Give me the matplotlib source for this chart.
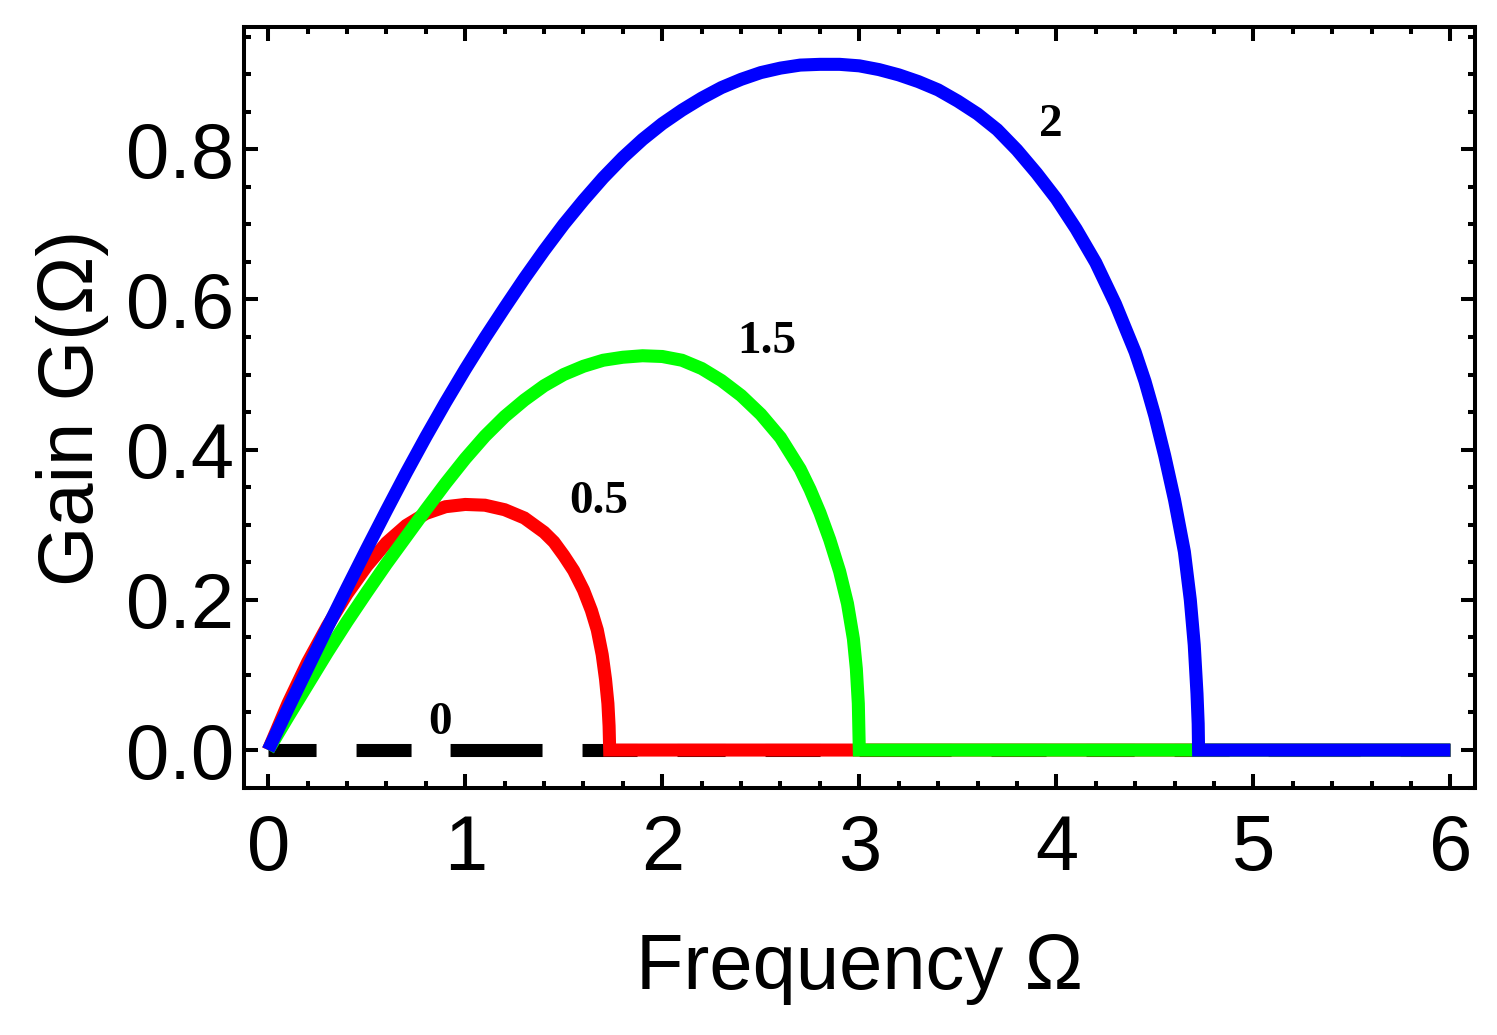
import numpy as np
import matplotlib
matplotlib.use("Agg")
import matplotlib.pyplot as plt
from matplotlib.ticker import MultipleLocator

# values
omega_red = [0.0, 0.1, 0.2, 0.3, 0.4, 0.5, 0.6, 0.7, 0.8, 0.9, 1.0, 1.1, 1.2,
             1.3, 1.4, 1.45, 1.5, 1.55, 1.6, 1.64, 1.67, 1.695, 1.712, 1.724,
             1.73, 1.733, 6.0]
gain_red = [0.0, 0.062, 0.117, 0.165, 0.208, 0.245, 0.276, 0.299, 0.315, 0.324,
            0.327, 0.326, 0.320, 0.309, 0.290, 0.277, 0.259, 0.239, 0.213,
            0.186, 0.160, 0.127, 0.094, 0.062, 0.032, 0.0, 0.0]

omega_green = [0.0, 0.1, 0.2, 0.3, 0.4, 0.5, 0.6, 0.7, 0.8, 0.9, 1.0, 1.1, 1.2,
               1.3, 1.4, 1.5, 1.6, 1.7, 1.8, 1.9, 2.0, 2.1, 2.2, 2.3, 2.4, 2.5,
               2.6, 2.7, 2.75, 2.8, 2.85, 2.9, 2.94, 2.97, 2.985, 2.995, 3.0, 6.0]
gain_green = [0.0, 0.044, 0.087, 0.130, 0.171, 0.210, 0.248, 0.284, 0.320, 0.355,
              0.388, 0.418, 0.444, 0.466, 0.485, 0.500, 0.511, 0.519, 0.523,
              0.525, 0.524, 0.519, 0.508, 0.492, 0.472, 0.447, 0.416, 0.374,
              0.347, 0.316, 0.280, 0.238, 0.195, 0.148, 0.108, 0.062, 0.0, 0.0]

omega_blue = [0.0, 0.1, 0.2, 0.3, 0.4, 0.5, 0.6, 0.7, 0.8, 0.9, 1.0, 1.1, 1.2,
              1.3, 1.4, 1.5, 1.6, 1.7, 1.8, 1.9, 2.0, 2.1, 2.2, 2.3, 2.4, 2.5,
              2.6, 2.7, 2.8, 2.9, 3.0, 3.1, 3.2, 3.3, 3.4, 3.5, 3.6, 3.7, 3.8,
              3.9, 4.0, 4.1, 4.2, 4.3, 4.4, 4.45, 4.5, 4.55, 4.6, 4.65, 4.68,
              4.70, 4.714, 4.72, 4.722, 6.0]
gain_blue = [0.0, 0.055, 0.109, 0.163, 0.216, 0.268, 0.319, 0.369, 0.417, 0.463,
             0.507, 0.549, 0.589, 0.628, 0.665, 0.700, 0.732, 0.762, 0.789,
             0.813, 0.834, 0.852, 0.868, 0.882, 0.893, 0.902, 0.908, 0.912,
             0.913, 0.913, 0.911, 0.906, 0.899, 0.890, 0.879, 0.864, 0.847,
             0.826, 0.799, 0.768, 0.734, 0.694, 0.649, 0.594, 0.530, 0.491,
             0.445, 0.392, 0.333, 0.264, 0.200, 0.140, 0.075, 0.035, 0.0, 0.0]

omega_zero = [0.0, 6.0]
gain_zero = [0.0, 0.0]

curve_labels = ['0', '0.5', '1.5', '2']
label_x = [0.872, 1.677, 2.531, 3.97]
label_y = [0.022, 0.316, 0.529, 0.818]

fig = plt.figure(figsize=(14.97, 10.35), dpi=100)
ax = fig.add_axes([0.163, 0.2386, 0.8223, 0.7353])

lw = 9.4
plt.rcParams['lines.scale_dashes'] = False
ax.plot(omega_zero, gain_zero, color='black', lw=lw, dash_capstyle='butt',
        dashes=(34.6, 28.8, 39.6, 28.1, 66.2, 28.8, 39.6, 28.8))
ax.plot(omega_red, gain_red, color='#ff0000', lw=lw,
        solid_capstyle='butt', solid_joinstyle='miter')
ax.plot(omega_green, gain_green, color='#00ff00', lw=lw,
        solid_capstyle='butt', solid_joinstyle='miter')
ax.plot(omega_blue, gain_blue, color='#0000ff', lw=lw,
        solid_capstyle='butt', solid_joinstyle='miter')

for t, x, y in zip(curve_labels, label_x, label_y):
    ax.text(x, y, t, ha='center', va='baseline', fontsize=34,
            fontweight='bold', family='Liberation Serif')

ax.set_xlim(-0.123, 6.125)
ax.set_ylim(-0.0506, 0.9627)

ax.xaxis.set_major_locator(MultipleLocator(1))
ax.xaxis.set_minor_locator(MultipleLocator(0.2))
ax.yaxis.set_major_locator(MultipleLocator(0.2))
ax.yaxis.set_minor_locator(MultipleLocator(0.05))
ax.yaxis.set_major_formatter(plt.FormatStrFormatter('%.1f'))

for s in ax.spines.values():
    s.set_linewidth(2.9)

ax.tick_params(which='both', direction='in', top=True, right=True, width=2.9)
ax.tick_params(which='major', length=10)
ax.tick_params(which='minor', length=5)
ax.tick_params(axis='x', which='major', pad=18, labelsize=56)
ax.tick_params(axis='y', which='major', pad=7, labelsize=56)
for lab in ax.get_xticklabels() + ax.get_yticklabels():
    lab.set_family('Liberation Sans')

ax.set_xlabel('Frequency Ω', fontsize=56, family='Liberation Sans', labelpad=33)
ax.set_ylabel('Gain G(Ω)', fontsize=56, family='Liberation Sans', labelpad=12)

fig.savefig('out.png', dpi=100)
